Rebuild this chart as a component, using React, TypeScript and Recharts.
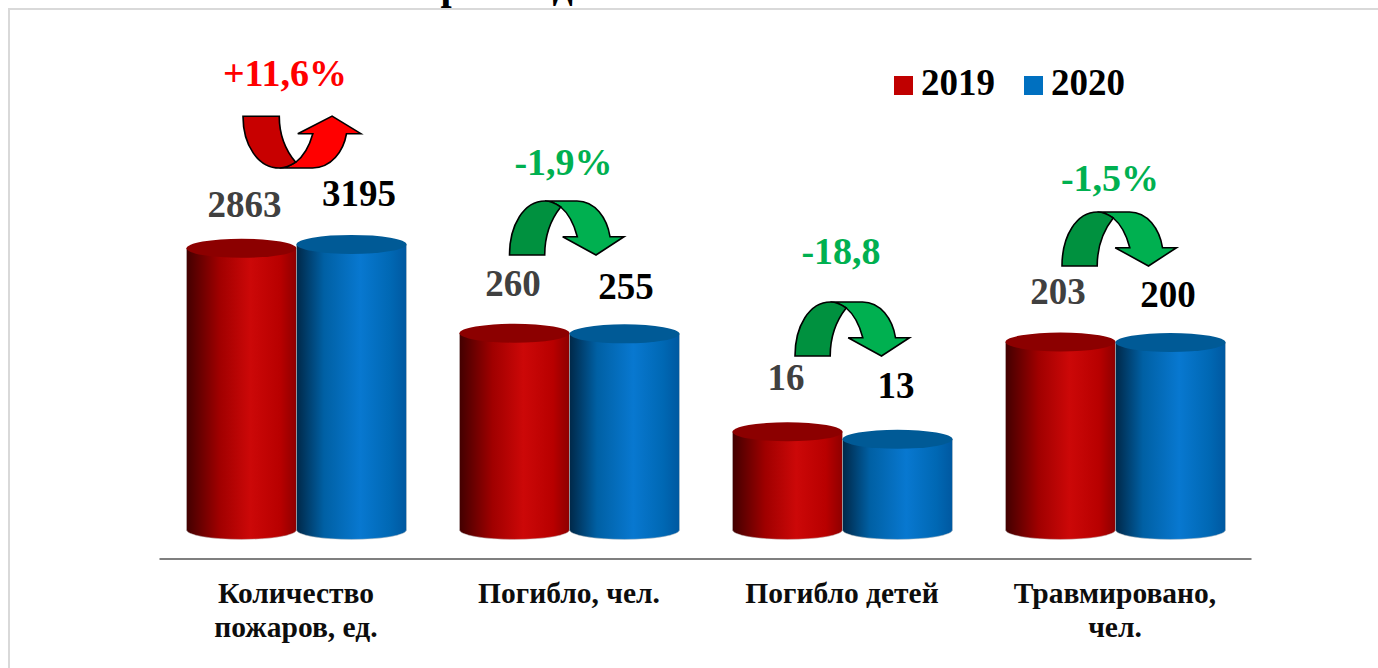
import React from 'react';
import { BarChart, Bar, XAxis, YAxis, Legend, LabelList } from 'recharts';

const categories = ['Количество пожаров, ед.', 'Погибло, чел.', 'Погибло детей', 'Травмировано, чел.'];
const values2019 = [2863, 260, 16, 203];
const values2020 = [3195, 255, 13, 200];
const changes = ['+11,6%', '-1,9%', '-18,8', '-1,5%'];
const titleText = '3.1. Пожарные данные за 2019-2020 гг.';
const rows = categories.map((name, i) => ({ name, y2019: values2019[i], y2020: values2020[i] }));

const SERIF = '"Liberation Serif", "Times New Roman", serif';
const FLOOR = 1;
const labelPos2019 = [[244.5, 217], [513, 296], [786, 390], [1058, 304]];
const labelPos2020 = [[359, 206], [626, 299], [896, 398], [1168, 307]];
const changePos = [[285, 86], [563.5, 175], [841, 264], [1110, 191]];
const arrowPos = [[243, 168, 1.03, -0.96], [509.5, 201, 1, 1], [795, 302, 1, 1], [1062, 212, 1, 1]];

const Cylinder = (props: any) => {
  const { x, y, width, height, gradient, capFill } = props;
  if (!(height > 0)) return null;
  const rx = width / 2;
  const ry = 9.5;
  const cx = x + rx;
  const bottom = y + height;
  return (
    <g>
      <path
        d={`M${x},${y} L${x},${bottom} A${rx},${ry} 0 0 0 ${x + width},${bottom} L${x + width},${y} Z`}
        fill={`url(#${gradient})`}
        stroke="#c8c8c8"
        strokeWidth={0.5}
      />
      <ellipse cx={cx} cy={y} rx={rx} ry={ry} fill={capFill} />
    </g>
  );
};

const makeLabel = (positions: number[][], color: string) => (props: any) => {
  const p = positions[props.index];
  return (
    <text x={p[0]} y={p[1]} textAnchor="middle" fontFamily={SERIF} fontWeight="bold" fontSize={37} fill={color}>
      {props.value}
    </text>
  );
};

const CategoryTick = (props: any) => {
  const { x, payload } = props;
  const lines: Record<string, string[]> = {
    'Количество пожаров, ед.': ['Количество', 'пожаров, ед.'],
    'Травмировано, чел.': ['Травмировано,', 'чел.'],
  };
  const parts = lines[payload.value] || [payload.value];
  return (
    <text textAnchor="middle" fontFamily={SERIF} fontWeight="bold" fontSize={29.5} fill="#0d0d0d">
      {parts.map((t, i) => (
        <tspan key={t} x={x} y={603 + i * 34}>{t}</tspan>
      ))}
    </text>
  );
};

const CurvedArrow = ({ pos, dark, light }: any) => (
  <g transform={`translate(${pos[0]},${pos[1]}) scale(${pos[2]},${pos[3]})`} stroke="#000" strokeWidth={1.6} strokeLinejoin="miter">
    <path fill={light} d="M35.5,0 L67.5,0 C85.5,0 97.5,17 100.5,35.7 L114.5,35.7 L86.5,54 L53.2,35.7 L67.8,35.7 C64.5,23 58.5,12 51.2,6 C46.5,2.5 40.5,0 35.5,0 Z" />
    <path fill={dark} d="M0,54 L35.2,54 C35.2,34 42.5,17 51.2,6 C45.5,2 40.5,0 35.5,0 C14.5,0 0,24 0,54 Z" />
  </g>
);

const LegendBox = ({ payload }: any) => (
  <div style={{ position: 'relative', height: 40, fontFamily: SERIF, fontWeight: 'bold', fontSize: 37, color: '#000' }}>
    {(payload || []).map((e: any, i: number) => (
      <div key={e.value} style={{ position: 'absolute', left: i * 130, top: 0, display: 'flex', alignItems: 'center', lineHeight: '40px' }}>
        <span style={{ width: 19, height: 19, background: e.color, display: 'inline-block', marginRight: 8, position: 'relative', top: 2 }} />
        <span>{e.value}</span>
      </div>
    ))}
  </div>
);

export default function App() {
  return (
    <div style={{ position: 'absolute', left: 0, top: 0, width: 1378, height: 668, background: '#fff', overflow: 'hidden' }}>
      <div style={{ position: 'absolute', left: 8, top: 8, width: 1500, height: 800, borderLeft: '2px solid #d9d9d9', borderTop: '2px solid #d9d9d9' }} />
      <div style={{ position: 'absolute', left: 258, top: -37, lineHeight: '46px', letterSpacing: 1.5, whiteSpace: 'nowrap', fontFamily: SERIF, fontWeight: 'bold', fontSize: 40, color: '#000' }}>
        {titleText}
      </div>
      <BarChart
        width={1378}
        height={668}
        data={rows}
        margin={{ top: 4, right: 126.5, bottom: 79, left: 159.5 }}
        barSize={110}
        barGap={0}
        style={{ position: 'absolute', left: 0, top: 0 }}
      >
        <defs>
          <linearGradient id="redCyl" x1="0" y1="0" x2="1" y2="0">
            <stop offset="0" stopColor="#420000" />
            <stop offset="0.3" stopColor="#a00000" />
            <stop offset="0.58" stopColor="#cc0808" />
            <stop offset="0.85" stopColor="#b80000" />
            <stop offset="1" stopColor="#8e0000" />
          </linearGradient>
          <linearGradient id="blueCyl" x1="0" y1="0" x2="1" y2="0">
            <stop offset="0" stopColor="#002848" />
            <stop offset="0.25" stopColor="#0060a4" />
            <stop offset="0.58" stopColor="#0878d0" />
            <stop offset="0.85" stopColor="#0068b4" />
            <stop offset="1" stopColor="#0058a0" />
          </linearGradient>
        </defs>
        <XAxis
          dataKey="name"
          interval={0}
          tickLine={false}
          axisLine={{ stroke: '#7f7f7f', strokeWidth: 2 }}
          tick={<CategoryTick />}
        />
        <YAxis hide scale="log" domain={[0.44, 920000]} />
        <Legend
          verticalAlign="top"
          align="left"
          content={<LegendBox />}
          wrapperStyle={{ position: 'absolute', left: 894, top: 63, width: 300, height: 40, margin: 0 }}
        />
        <Bar
          name="2019"
          dataKey={(r: any) => [FLOOR, r.y2019]}
          fill="#c00000"
          isAnimationActive={false}
          shape={<Cylinder gradient="redCyl" capFill="#8c0000" />}
        >
          <LabelList dataKey="y2019" content={makeLabel(labelPos2019, '#404040')} />
        </Bar>
        <Bar
          name="2020"
          dataKey={(r: any) => [FLOOR, r.y2020]}
          fill="#0070c0"
          isAnimationActive={false}
          shape={<Cylinder gradient="blueCyl" capFill="#005a96" />}
        >
          <LabelList dataKey="y2020" content={makeLabel(labelPos2020, '#000000')} />
        </Bar>
        {arrowPos.map((p, i) => (
          <CurvedArrow key={i} pos={p} dark={i === 0 ? '#c80000' : '#00913f'} light={i === 0 ? '#ff0000' : '#00b050'} />
        ))}
        {changes.map((c, i) => (
          <text key={c} x={changePos[i][0]} y={changePos[i][1]} textAnchor="middle" fontFamily={SERIF} fontWeight="bold" fontSize={38} fill={i === 0 ? '#ff0000' : '#00b050'}>
            {c}
          </text>
        ))}
      </BarChart>
    </div>
  );
}
